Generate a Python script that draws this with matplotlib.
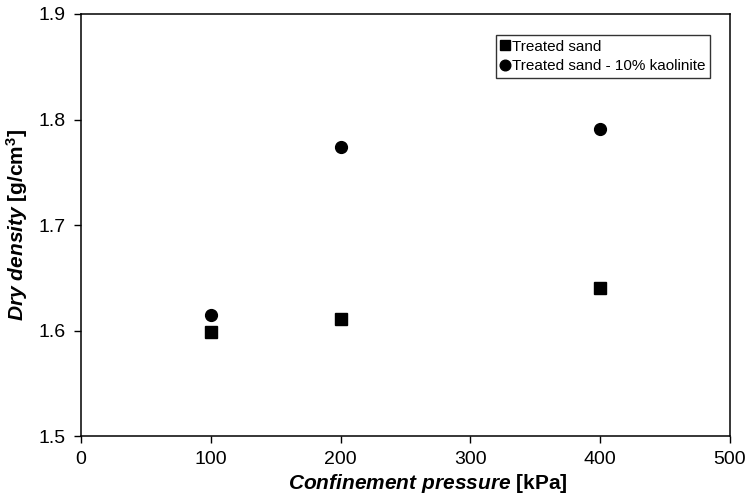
import matplotlib
matplotlib.use('Agg')
import matplotlib.pyplot as plt

# data
pressure = [100, 200, 400]
density_sand = [1.599, 1.611, 1.640]
density_kaolinite = [1.615, 1.774, 1.791]
xticks = [0, 100, 200, 300, 400, 500]
yticks = [1.5, 1.6, 1.7, 1.8, 1.9]

plt.rcParams['font.family'] = 'Liberation Sans'
plt.rcParams['mathtext.fontset'] = 'custom'
plt.rcParams['mathtext.it'] = 'Liberation Sans:italic:bold'
plt.rcParams['mathtext.rm'] = 'Liberation Sans:bold'

fig = plt.figure(figsize=(7.46, 4.99), dpi=100)
ax = fig.add_axes([0.1086, 0.126, 0.870, 0.846])

ax.plot(pressure, density_sand, 's', color='black', markersize=8.5, label='Treated sand')
ax.plot(pressure, density_kaolinite, 'o', color='black', markersize=8.5,
        label='Treated sand - 10% kaolinite')

ax.set_xlim(0, 500)
ax.set_ylim(1.5, 1.9)
ax.set_xticks(xticks)
ax.set_yticks(yticks)
ax.set_yticklabels(['%.1f' % v for v in yticks])
ax.tick_params(labelsize=14, direction='out', length=5, width=1, color='black', pad=6)
for s in ax.spines.values():
    s.set_linewidth(1.1)

ax.set_xlabel(r'$\mathit{Confinement\ pressure}$ [kPa]', fontsize=15, fontweight='bold', labelpad=1)
ax.xaxis.set_label_coords(0.534, -0.085)
ax.set_ylabel(r'$\mathit{Dry\ density}$ [g/cm$^3$]', fontsize=15, fontweight='bold', labelpad=6)

leg = ax.legend(loc='upper right', bbox_to_anchor=(0.969, 0.95), fontsize=11, frameon=True,
                fancybox=False, edgecolor='black', handlelength=0.6, handletextpad=0.15,
                borderpad=0.3, borderaxespad=0, labelspacing=0.35, markerscale=0.9)
leg.get_frame().set_linewidth(1.0)

fig.savefig('out.png', dpi=100)
